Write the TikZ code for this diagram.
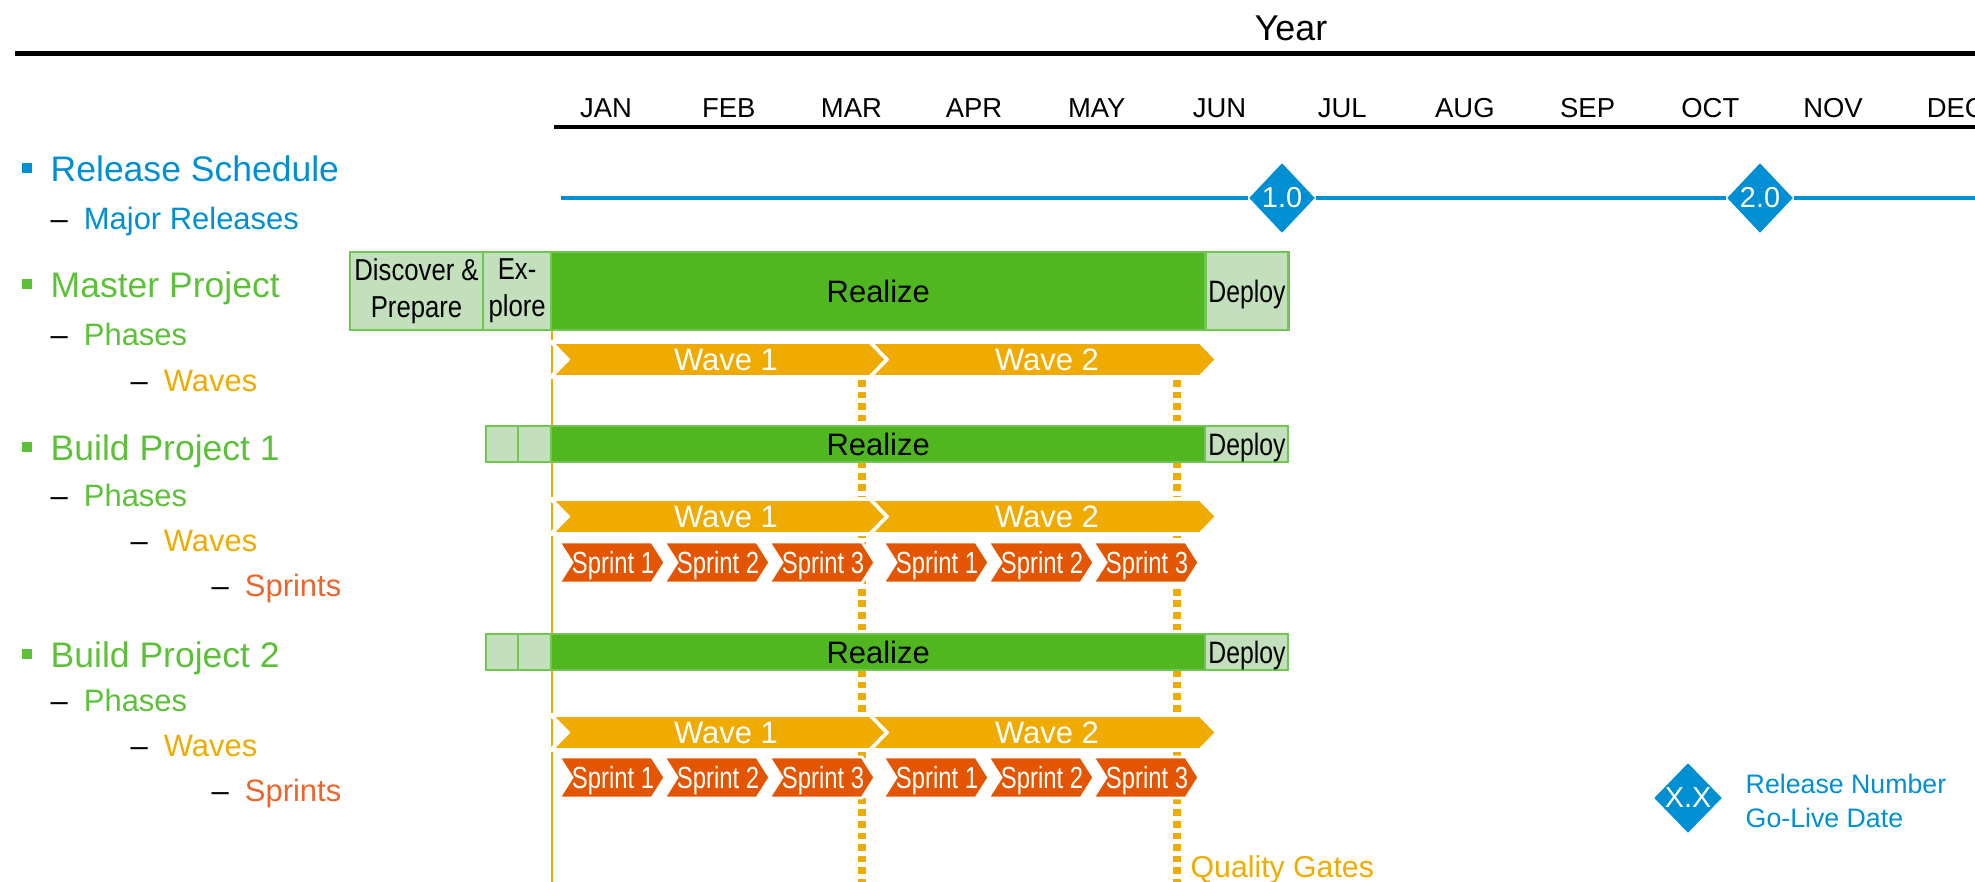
\documentclass[tikz,border=0pt]{standalone}
\usepackage{fontspec}
\setmainfont{Liberation Sans}
\usepackage{graphicx}
\usetikzlibrary{shapes.geometric}
\usetikzlibrary{positioning}

\definecolor{relblue}{RGB}{0,143,211}
\definecolor{barg}{RGB}{80,183,32}
\definecolor{txtg}{RGB}{92,192,56}
\definecolor{paleg}{RGB}{194,224,187}
\definecolor{edgeg}{RGB}{112,198,80}
\definecolor{wavegold}{RGB}{240,171,0}
\definecolor{sprintor}{RGB}{227,85,0}
\definecolor{sprintlbl}{RGB}{236,100,42}

\newcommand{\narrowtext}[2][0.78]{\scalebox{#1}[1]{#2}}

\begin{document}
\begin{tikzpicture}[x=0.01cm, y=-0.01cm,
    lvlone/.style={anchor=base west, inner sep=0pt, font=\fontsize{10.1}{12}\selectfont},
    lvltwo/.style={anchor=base west, inner sep=0pt, font=\fontsize{8.8}{10}\selectfont},
    month/.style={inner sep=0pt, font=\fontsize{7.8}{9}\selectfont},
    release/.style={diamond, fill=relblue, text=white, inner sep=0pt, minimum width=0.66cm, minimum height=0.70cm, font=\fontsize{8.2}{9}\selectfont},
    phase/.style={draw=edgeg, line width=0.6pt, fill=paleg, inner sep=0pt, outer sep=0pt, font=\fontsize{8.8}{10.5}\selectfont},
    realize/.style={phase, fill=barg},
    wave/.style={fill=wavegold, draw=white, line width=1pt},
    wavetxt/.style={text=white, inner sep=0pt, text depth=0pt, font=\fontsize{8.8}{10}\selectfont},
    sprint/.style={fill=sprintor, draw=white, line width=0.8pt},
    sprinttxt/.style={text=white, inner sep=0pt, text depth=0pt, font=\fontsize{8.7}{9}\selectfont},
    gate/.style={wavegold, line width=2pt, dash pattern=on 1.9pt off 1.4pt}
]
\clip (0,0) rectangle (1975,882);

% header
\node[font=\fontsize{10.2}{12}\selectfont, inner sep=0pt] (year) at (1291,28.5) {Year};
\draw[line width=1.7pt] (15,53.5) -- (1975,53.5);
\foreach \m [count=\i from 0] in {JAN,FEB,MAR,APR,MAY,JUN,JUL,AUG,SEP,OCT,NOV,DEC}
    \node[month] (\m) at (606+122.7*\i,108) {\m};
\draw[line width=1.1pt] (554,127) -- (1975,127);

% releases
\node[release] (r1) at (1282,198) {1.0};
\node[release] (r2) at (1760,198) {2.0};
\coordinate (rstart) at (561,198);
\coordinate (rend) at (1975,198);
\draw[relblue, line width=1.4pt] (rstart) -- (r1) -- (r2) -- (rend);

% left labels
\node[lvlone, text=relblue] (relsched) at (21,181.7) {\rule[0.087cm]{0.1cm}{0.1cm}\hspace{0.19cm}Release Schedule};
\node[lvltwo, text=relblue] (majrel) at (50,229) {\textcolor{black}{--}\hspace{0.16cm}Major Releases};
\node[lvlone, text=txtg] (master) at (21,297.7) {\rule[0.087cm]{0.1cm}{0.1cm}\hspace{0.19cm}Master Project};
\node[lvltwo, text=txtg] (mphase) at (50,345) {\textcolor{black}{--}\hspace{0.16cm}Phases};
\node[lvltwo, text=wavegold] (mwave) at (130,391) {\textcolor{black}{--}\hspace{0.16cm}Waves};
\node[lvlone, text=txtg] (buildA) at (21,460.7) {\rule[0.087cm]{0.1cm}{0.1cm}\hspace{0.19cm}Build Project 1};
\node[lvltwo, text=txtg] (aphase) at (50,506) {\textcolor{black}{--}\hspace{0.16cm}Phases};
\node[lvltwo, text=wavegold] (awave) at (130,551) {\textcolor{black}{--}\hspace{0.16cm}Waves};
\node[lvltwo, text=sprintlbl] (asprint) at (211,596) {\textcolor{black}{--}\hspace{0.16cm}Sprints};
\node[lvlone, text=txtg] (buildB) at (21,667.7) {\rule[0.087cm]{0.1cm}{0.1cm}\hspace{0.19cm}Build Project 2};
\node[lvltwo, text=txtg] (bphase) at (50,711) {\textcolor{black}{--}\hspace{0.16cm}Phases};
\node[lvltwo, text=wavegold] (bwave) at (130,756) {\textcolor{black}{--}\hspace{0.16cm}Waves};
\node[lvltwo, text=sprintlbl] (bsprint) at (211,801) {\textcolor{black}{--}\hspace{0.16cm}Sprints};

% quality gates and start line
\draw[gate] (862,380) -- (862,882);
\draw[gate] (1177,380) -- (1177,882);
\draw[wavegold, line width=0.6pt] (552,330) -- (552,882);
\node[anchor=base west, inner sep=0pt, text=wavegold, font=\fontsize{8.6}{10}\selectfont] (qgates) at (1190,877) {Quality Gates};

% master project phases
\node[phase, anchor=north west, minimum width=1.33cm, minimum height=0.78cm, align=center, font=\fontsize{8.6}{10.5}\selectfont] (discover) at (350,252) {\narrowtext[0.85]{Discover \&}\\\narrowtext[0.85]{Prepare}};
\node[phase, minimum width=0.68cm, minimum height=0.78cm, align=center, font=\fontsize{8.6}{10.5}\selectfont, right=0pt of discover] (explore) {\narrowtext[0.85]{Ex-}\\\narrowtext[0.85]{plore}};
\node[realize, minimum width=6.54cm, minimum height=0.78cm, right=0pt of explore] (mreal) {Realize};
\node[phase, minimum width=0.83cm, minimum height=0.78cm, text depth=0pt, right=0pt of mreal] (mdeploy) {\narrowtext[0.8]{Deploy}};

% build project phases
\node[realize, anchor=north west, minimum width=6.54cm, minimum height=0.36cm] (areal) at (551,426) {Realize};
\node[phase, minimum width=0.83cm, minimum height=0.36cm, text depth=0pt, right=0pt of areal] (adeploy) {\narrowtext[0.8]{Deploy}};
\node[phase, minimum width=0.33cm, minimum height=0.36cm, left=0pt of areal] (aexplore) {};
\node[phase, minimum width=0.32cm, minimum height=0.36cm, left=0pt of aexplore] (adiscover) {};
\node[realize, anchor=north west, minimum width=6.54cm, minimum height=0.36cm] (breal) at (551,634) {Realize};
\node[phase, minimum width=0.83cm, minimum height=0.36cm, text depth=0pt, right=0pt of breal] (bdeploy) {\narrowtext[0.8]{Deploy}};
\node[phase, minimum width=0.33cm, minimum height=0.36cm, left=0pt of breal] (bexplore) {};
\node[phase, minimum width=0.32cm, minimum height=0.36cm, left=0pt of bexplore] (bdiscover) {};

% waves
\foreach \t/\r in {342/m,499/a,715/b} {
    \draw[wave] (551,\t) -- (870,\t) -- (887,\t+17.5) -- (870,\t+35) -- (551,\t+35) -- (568,\t+17.5) -- cycle;
    \draw[wave] (870,\t) -- (1200,\t) -- (1217,\t+17.5) -- (1200,\t+35) -- (870,\t+35) -- (887,\t+17.5) -- cycle;
    \node[wavetxt] (wone\r) at (726,\t+17.5) {Wave 1};
    \node[wavetxt] (wtwo\r) at (1047,\t+17.5) {Wave 2};
}

% sprints
\foreach \t/\r in {542/a,757/b} {
    \foreach \x/\n [count=\k] in {559/1,664/2,769/3,883/1,988/2,1093/3} {
        \draw[sprint] (\x,\t) -- ++(93,0) -- ++(13,20.5) -- ++(-13,20.5) -- ++(-93,0) -- ++(13,-20.5) -- cycle;
        \node[sprinttxt] (s\r\k) at (\x+54,\t+20.5) {\narrowtext{Sprint \n}};
    }
}

% legend
\node[release, minimum width=0.68cm] (key) at (1688,798) {X.X};
\node[anchor=base west, inner sep=0pt, text=relblue, font=\fontsize{7.6}{9}\selectfont] (keynum) at (1745,793) {Release Number};
\node[anchor=base west, inner sep=0pt, text=relblue, font=\fontsize{7.6}{9}\selectfont] (keydate) at (1745,827) {Go-Live Date};
\end{tikzpicture}
\end{document}
